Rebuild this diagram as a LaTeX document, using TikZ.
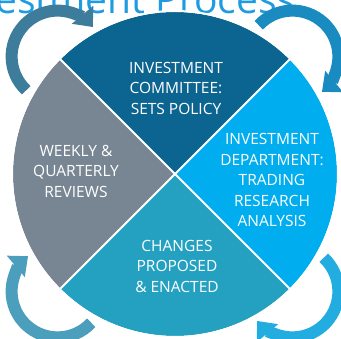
\documentclass[tikz,border=0pt]{standalone}
\usepackage{fontspec}
\setmainfont{Open Sans}
\usetikzlibrary{arrows.meta}

\definecolor{committeeblue}{HTML}{0C6590}
\definecolor{deptblue}{HTML}{00ADEE}
\definecolor{changesteal}{HTML}{24A1C1}
\definecolor{reviewgray}{HTML}{788693}
\definecolor{titleblue}{HTML}{1E9BE1}
\definecolor{arrowtl}{HTML}{3E7C9C}
\definecolor{arrowtr}{HTML}{1A8BC0}
\definecolor{arrowbr}{HTML}{22ACDF}
\definecolor{arrowbl}{HTML}{4C9EBD}

\tikzset{
  steplabel/.style={align=center, text=white, font=\fontsize{15.5}{20.5}\selectfont},
  cyclearrow/.style={line width=12pt, -{Triangle[width=27pt,length=16pt]}}
}

\begin{document}
\begin{tikzpicture}[x=1pt,y=1pt]
\useasboundingbox (-175,-165) rectangle (166,174);
\clip (-175,-165) rectangle (166,174);

% title, cut off at the top edge
\node[anchor=base east, text=titleblue, font=\fontsize{39}{42}\selectfont] (title) at (124,160) {Investment Process};

% curved arrows round the four corners
\foreach \ang/\col in {135/arrowtl, 45/arrowtr, -45/arrowbr, -135/arrowbl} {
  \draw[cyclearrow, \col] (\ang:166) ++(\ang+92:46)
    arc[start angle=\ang+92, end angle=\ang-95, radius=46];
}

% the four quarters of the disc
\fill[committeeblue] (0,0) -- (135:162) arc[start angle=135, end angle=45, radius=162] -- cycle;
\fill[deptblue] (0,0) -- (45:162) arc[start angle=45, end angle=-45, radius=162] -- cycle;
\fill[changesteal] (0,0) -- (-45:162) arc[start angle=-45, end angle=-135, radius=162] -- cycle;
\fill[reviewgray] (0,0) -- (-135:162) arc[start angle=-135, end angle=-225, radius=162] -- cycle;

% white rim and cross
\draw[white, line width=2pt] (0,0) circle (163);
\draw[white, line width=2pt] (135:164) -- (-45:164);
\draw[white, line width=2pt] (45:164) -- (-135:164);

% labels
\node[steplabel] (committee) at (1,86) {INVESTMENT\\COMMITTEE:\\SETS POLICY};
\node[steplabel] (department) at (97,-6) {INVESTMENT\\DEPARTMENT:\\TRADING\\RESEARCH\\ANALYSIS};
\node[steplabel] (changes) at (2,-92) {CHANGES\\PROPOSED\\\& ENACTED};
\node[steplabel] (reviews) at (-99,3) {WEEKLY \&\\QUARTERLY\\REVIEWS};

\end{tikzpicture}
\end{document}
